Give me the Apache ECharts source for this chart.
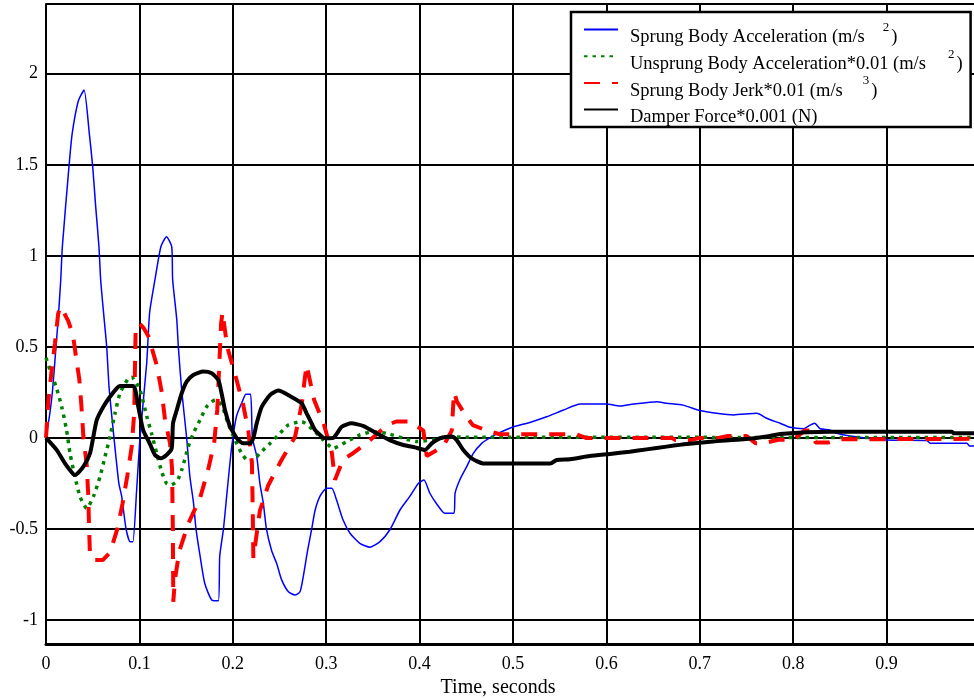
<!DOCTYPE html>
<html>
<head>
<meta charset="utf-8">
<script src="https://cdn.jsdelivr.net/npm/echarts@6/dist/echarts.min.js"></script>
<style>
  html, body { margin: 0; padding: 0; background: #fff; }
  #chart { width: 974px; height: 699px; }
</style>
</head>
<body>
<div id="chart"></div>
<script>
// Suspension response to a road bump: time histories (seconds)

const sprungT = [0, 0.004, 0.007, 0.0107, 0.013, 0.0157, 0.0175, 0.0246, 0.028, 0.0346, 0.0407, 0.0464, 0.05, 0.0532, 0.0567, 0.0585, 0.0614, 0.065, 0.0675, 0.0728, 0.078, 0.081, 0.0857, 0.09, 0.093, 0.097, 0.1006, 0.1078, 0.111, 0.1167, 0.123, 0.129, 0.1346, 0.1356, 0.14, 0.1417, 0.1453, 0.1506, 0.154, 0.158, 0.1606, 0.165, 0.17, 0.1774, 0.1845, 0.186, 0.19, 0.194, 0.1988, 0.204, 0.211, 0.214, 0.219, 0.221, 0.2256, 0.229, 0.2327, 0.236, 0.2416, 0.247, 0.2523, 0.2595, 0.2666, 0.272, 0.2755, 0.28, 0.2845, 0.288, 0.2934, 0.3005, 0.306, 0.311, 0.318, 0.3255, 0.336, 0.347, 0.3576, 0.368, 0.379, 0.3897, 0.3986, 0.4047, 0.411, 0.418, 0.427, 0.4368, 0.438, 0.443, 0.4504, 0.4575, 0.4665, 0.475, 0.486, 0.5, 0.518, 0.536, 0.554, 0.572, 0.6, 0.6146, 0.629, 0.654, 0.6645, 0.682, 0.7, 0.718, 0.736, 0.761, 0.7716, 0.786, 0.7966, 0.811, 0.818, 0.823, 0.829, 0.839, 0.8466, 0.861, 0.9, 0.943, 0.947, 0.986, 0.989, 1.0];
const sprungAcc = [0, 0.13, 0.26, 0.5, 0.65, 0.86, 1.05, 1.49, 1.67, 1.85, 1.91, 1.67, 1.49, 1.27, 1.05, 0.87, 0.7, 0.5, 0.28, 0, -0.25, -0.32, -0.5, -0.57, -0.57, -0.29, 0, 0.41, 0.69, 0.87, 1.05, 1.105, 1.05, 0.87, 0.65, 0.5, 0.26, 0, -0.21, -0.36, -0.5, -0.65, -0.8, -0.89, -0.895, -0.65, -0.5, -0.29, -0.05, 0.12, 0.21, 0.24, 0.24, 0, -0.1, -0.25, -0.36, -0.5, -0.62, -0.69, -0.78, -0.845, -0.863, -0.845, -0.76, -0.62, -0.5, -0.4, -0.32, -0.277, -0.277, -0.34, -0.45, -0.524, -0.579, -0.6, -0.57, -0.506, -0.396, -0.32, -0.25, -0.231, -0.304, -0.36, -0.414, -0.414, -0.304, -0.231, -0.158, -0.085, -0.03, 0.0, 0.03, 0.06, 0.085, 0.116, 0.153, 0.186, 0.186, 0.175, 0.186, 0.199, 0.19, 0.18, 0.15, 0.135, 0.126, 0.135, 0.108, 0.08, 0.058, 0.05, 0.07, 0.08, 0.05, 0.043, 0.025, 0.01, -0.012, -0.015, -0.03, -0.03, -0.045, -0.045];

const unsprungT = [0, 0.0043, 0.0114, 0.0168, 0.022, 0.0257, 0.031, 0.0364, 0.0436, 0.0507, 0.0578, 0.0632, 0.0685, 0.0739, 0.0792, 0.0881, 0.0917, 0.1006, 0.1078, 0.113, 0.1185, 0.1239, 0.129, 0.1328, 0.14, 0.1453, 0.1524, 0.1577, 0.1649, 0.172, 0.181, 0.188, 0.195, 0.2024, 0.2095, 0.2149, 0.2202, 0.229, 0.24, 0.2505, 0.2594, 0.2738, 0.2862, 0.297, 0.3076, 0.322, 0.336, 0.35, 0.3648, 0.3826, 0.397, 0.4147, 0.429, 0.45, 1.0];
const unsprungAcc = [0.44, 0.373, 0.272, 0.171, 0.043, -0.085, -0.213, -0.323, -0.387, -0.323, -0.213, -0.103, 0.007, 0.135, 0.245, 0.327, 0.333, 0.263, 0.12, 0.025, -0.085, -0.186, -0.25, -0.259, -0.24, -0.176, -0.048, 0.025, 0.098, 0.171, 0.208, 0.18, 0.08, -0.012, -0.085, -0.121, -0.13, -0.085, -0.03, 0.025, 0.071, 0.089, 0.043, -0.012, -0.057, -0.02, 0.016, 0.034, 0.025, -0.002, -0.02, -0.01, 0.007, 0.004, 0.002];

const jerkT = [0, 0.0025, 0.006, 0.0096, 0.013, 0.015, 0.018, 0.024, 0.029, 0.032, 0.0357, 0.038, 0.04, 0.0436, 0.0453, 0.046, 0.047, 0.05, 0.061, 0.0685, 0.0764, 0.082, 0.087, 0.0917, 0.0945, 0.0953, 0.096, 0.1, 0.105, 0.1095, 0.1185, 0.124, 0.1274, 0.1328, 0.135, 0.1358, 0.1363, 0.138, 0.1428, 0.1524, 0.165, 0.1738, 0.18, 0.1834, 0.1855, 0.1875, 0.189, 0.194, 0.2024, 0.211, 0.2166, 0.2205, 0.2213, 0.222, 0.229, 0.238, 0.2523, 0.2666, 0.2738, 0.2773, 0.279, 0.287, 0.2975, 0.306, 0.3094, 0.318, 0.327, 0.343, 0.365, 0.375, 0.39, 0.404, 0.4076, 0.414, 0.425, 0.4344, 0.4368, 0.44, 0.449, 0.457, 0.472, 0.486, 0.5, 0.568, 0.578, 0.67, 0.674, 0.69, 0.7, 0.72, 0.73, 0.75, 0.76, 0.768, 0.784, 0.8, 0.812, 0.818, 0.824, 0.838, 0.85, 1.0];
const jerkVal = [0, 0.2, 0.37, 0.52, 0.68, 0.72, 0.7, 0.64, 0.56, 0.45, 0.32, 0.17, 0.01, -0.15, -0.32, -0.47, -0.63, -0.67, -0.67, -0.63, -0.5, -0.36, -0.21, -0.05, 0.14, 0.4, 0.6, 0.63, 0.6, 0.56, 0.4, 0.25, 0.1, -0.03, -0.17, -0.5, -0.9, -0.78, -0.62, -0.47, -0.33, -0.17, -0.03, 0.155, 0.4, 0.63, 0.69, 0.5, 0.35, 0.185, 0.04, -0.14, -0.38, -0.66, -0.4, -0.26, -0.12, 0.005, 0.185, 0.335, 0.4, 0.21, 0.075, -0.08, -0.23, -0.12, -0.09, -0.03, 0.07, 0.09, 0.09, 0.04, -0.1, -0.08, -0.05, 0.04, 0.25, 0.2, 0.125, 0.07, 0.04, 0.02, 0.02, 0.02, 0.0, 0.0, -0.012, -0.012, 0.0, 0.0, 0.01, 0.01, -0.03, -0.03, -0.01, -0.01, 0.04, 0.04, -0.025, -0.025, -0.008, -0.005];

const damperT = [0, 0.0114, 0.0203, 0.0293, 0.031, 0.04, 0.0471, 0.0507, 0.0543, 0.0614, 0.0685, 0.0757, 0.079, 0.0935, 0.0988, 0.104, 0.111, 0.1167, 0.1228, 0.129, 0.1346, 0.136, 0.14, 0.1453, 0.1506, 0.1577, 0.1685, 0.1774, 0.1845, 0.188, 0.1916, 0.197, 0.2005, 0.204, 0.2077, 0.211, 0.2184, 0.222, 0.2256, 0.231, 0.24, 0.2487, 0.2612, 0.2738, 0.279, 0.2827, 0.288, 0.2915, 0.297, 0.3005, 0.3076, 0.3166, 0.327, 0.34, 0.354, 0.368, 0.3826, 0.395, 0.4058, 0.413, 0.4218, 0.4344, 0.4397, 0.4468, 0.4558, 0.468, 0.54, 0.547, 0.561, 0.582, 0.604, 0.625, 0.643, 0.6645, 0.686, 0.714, 0.7466, 0.7716, 0.786, 0.839, 0.97, 0.972, 1.0];
const damperVal = [0, -0.066, -0.14, -0.2, -0.204, -0.158, -0.085, 0.007, 0.098, 0.171, 0.226, 0.272, 0.285, 0.285, 0.171, 0.043, -0.03, -0.094, -0.112, -0.094, -0.057, 0.08, 0.153, 0.245, 0.309, 0.345, 0.364, 0.355, 0.318, 0.245, 0.153, 0.061, 0.03, 0.0, -0.02, -0.03, -0.03, 0.0, 0.08, 0.171, 0.236, 0.26, 0.23, 0.19, 0.135, 0.098, 0.043, 0.025, 0.0, -0.002, 0.0, 0.061, 0.08, 0.065, 0.025, -0.012, -0.039, -0.052, -0.066, -0.03, -0.002, 0.007, -0.012, -0.066, -0.112, -0.14, -0.14, -0.121, -0.117, -0.1, -0.088, -0.076, -0.063, -0.048, -0.034, -0.02, -0.008, 0.008, 0.022, 0.034, 0.034, 0.025, 0.025];

const seriesNames = [
  'Sprung Body Acceleration (m/s2)',
  'Unsprung Body Acceleration*0.01 (m/s2)',
  'Sprung Body Jerk*0.01 (m/s3)',
  'Damper Force*0.001 (N)'
];
// legend entries, with the unit exponent set as a raised superscript
const legendText = [
  '{m|Sprung Body Acceleration (m/s}{s1|2}{m|)}',
  '{m|Unsprung Body Acceleration*0.01 (m/s}{s2|2}{m|)}',
  '{m|Sprung Body Jerk*0.01 (m/s}{s3|3}{m|)}',
  '{m|Damper Force*0.001 (N)}'
];
const xAxisTitle = 'Time, seconds';

const pairs = (xs, ys) => xs.map((x, i) => [x, ys[i]]);
const FONT = 'Liberation Serif';
const supStyle = gap => ({
  fontFamily: FONT, fontSize: 13, color: '#000', verticalAlign: 'top', padding: [0, 2, 0, gap]
});

const chart = echarts.init(document.getElementById('chart'), null, { renderer: 'canvas' });

chart.setOption({
  animation: false,
  backgroundColor: '#ffffff',
  grid: {
    left: 46, top: 4, right: -6, bottom: 55,
    outerBoundsMode: 'none',
    containLabel: false,
    show: false
  },
  xAxis: {
    type: 'value',
    min: 0, max: 1, interval: 0.1,
    name: xAxisTitle,
    nameLocation: 'middle',
    nameGap: 33,
    nameTextStyle: { fontFamily: FONT, fontSize: 20, color: '#000', padding: [0, 30, 0, 0] },
    axisLine: { show: true, onZero: false, lineStyle: { color: '#000', width: 3 } },
    axisTick: { show: false },
    axisLabel: {
      fontFamily: FONT, fontSize: 18, color: '#000', margin: 11,
      formatter: v => (Math.round(v * 10) / 10).toString()
    },
    splitLine: { show: true, lineStyle: { color: '#000', width: 2 } }
  },
  yAxis: {
    type: 'value',
    min: -1.132, max: 2.383, splitNumber: 7,
    axisLine: { show: true, onZero: false, lineStyle: { color: '#000', width: 2 } },
    axisTick: { show: false },
    axisLabel: {
      fontFamily: FONT, fontSize: 18, color: '#000', margin: 8,
      showMinLabel: false, showMaxLabel: false,
      formatter: v => (Math.abs(v * 2 - Math.round(v * 2)) < 1e-6 ? (Math.round(v * 2) / 2).toString() : '')
    },
    splitLine: { show: true, showMinLine: true, showMaxLine: true, lineStyle: { color: '#000', width: 2 } }
  },
  legend: {
    orient: 'vertical',
    left: 571, top: 12,
    padding: [0, 8, 0, 12],
    itemGap: -8.3,
    itemWidth: 34, itemHeight: 14,
    backgroundColor: '#ffffff',
    borderColor: '#000', borderWidth: 2.5, borderRadius: 0,
    selectedMode: false,
    itemStyle: { opacity: 0 },
    data: seriesNames,
    formatter: name => legendText[seriesNames.indexOf(name)],
    textStyle: {
      fontFamily: FONT, fontSize: 18.5, color: '#000', lineHeight: 26,
      padding: [9, 0, 0, 7],
      rich: {
        m: { fontFamily: FONT, fontSize: 18.5, color: '#000', lineHeight: 26, verticalAlign: 'bottom' },
        s1: supStyle(18),
        s2: supStyle(22),
        s3: supStyle(20)
      }
    }
  },
  series: [
    {
      name: seriesNames[0], type: 'line', data: pairs(sprungT, sprungAcc),
      showSymbol: false, symbol: 'none', smooth: 0.2, z: 3,
      lineStyle: { color: '#0000ff', width: 1.5 }, itemStyle: { color: '#0000ff' }
    },
    {
      name: seriesNames[1], type: 'line', data: pairs(unsprungT, unsprungAcc),
      showSymbol: false, symbol: 'none', smooth: 0.2, z: 3,
      lineStyle: { color: '#008000', width: 3.5, type: [3.5, 5] }, itemStyle: { color: '#008000' }
    },
    {
      name: seriesNames[2], type: 'line', data: pairs(jerkT, jerkVal),
      showSymbol: false, symbol: 'none', smooth: false, z: 4,
      lineStyle: { color: '#ff0000', width: 4, type: [16, 12] }, itemStyle: { color: '#ff0000' }
    },
    {
      name: seriesNames[3], type: 'line', data: pairs(damperT, damperVal),
      showSymbol: false, symbol: 'none', smooth: 0.2, z: 5,
      lineStyle: { color: '#000000', width: 4 }, itemStyle: { color: '#000000' }
    }
  ]
});
</script>
</body>
</html>
